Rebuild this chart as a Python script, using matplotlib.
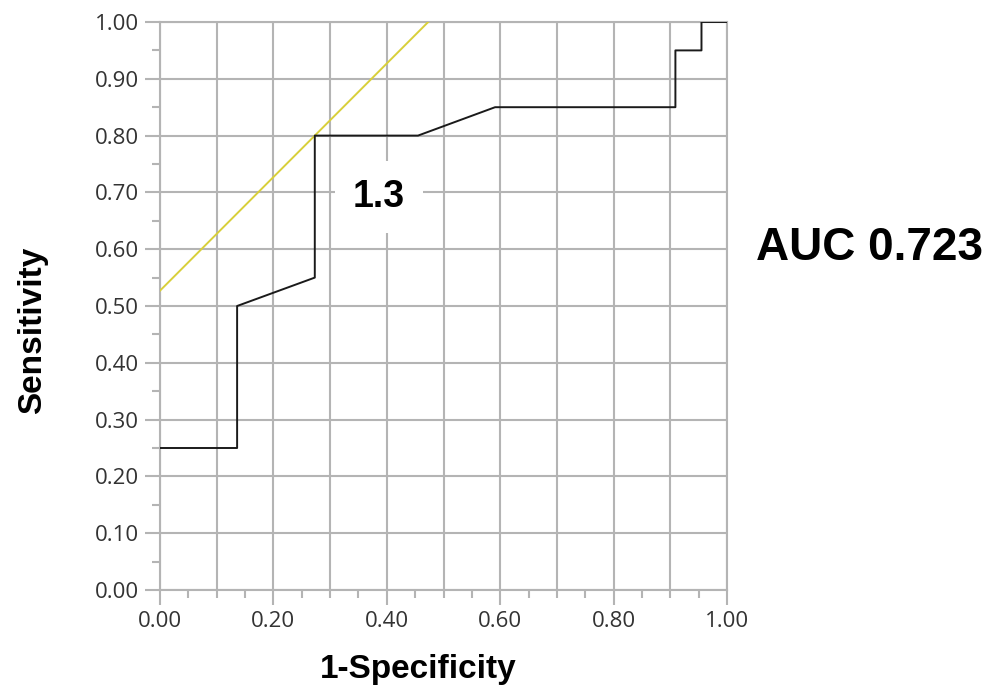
import matplotlib
matplotlib.use("Agg")
import matplotlib.pyplot as plt
from matplotlib.ticker import MultipleLocator

# ROC curve points (1-Specificity, Sensitivity)
fpr = [0.0, 0.136, 0.136, 0.273, 0.273, 0.455, 0.591, 0.909, 0.909, 0.955, 0.955, 1.0]
tpr = [0.25, 0.25, 0.50, 0.55, 0.80, 0.80, 0.85, 0.85, 0.95, 0.95, 1.00, 1.00]

# tangent line through the cutoff point
cut_x = 0.273
cut_y = 0.80
line_x = [0.0, 1.0]
line_y = [cut_y - cut_x, 1.0 + cut_y - cut_x]

cut_label = "1.3"
auc_text = "AUC 0.723"

fig = plt.figure(figsize=(9.94, 6.86), dpi=100)
ax = fig.add_axes([160 / 994, 1 - 590 / 686, 567 / 994, 568 / 686])

ax.plot(line_x, line_y, color="#d8cf3a", lw=1.4, zorder=3)
ax.plot(fpr, tpr, color="#1a1a1a", lw=1.4, zorder=4)

ax.set_xlim(0, 1)
ax.set_ylim(0, 1)

ax.xaxis.set_major_locator(MultipleLocator(0.2))
ax.xaxis.set_minor_locator(MultipleLocator(0.05))
ax.yaxis.set_major_locator(MultipleLocator(0.1))
ax.yaxis.set_minor_locator(MultipleLocator(0.05))
ax.xaxis.set_major_formatter(lambda v, p: f"{v:.2f}")
ax.yaxis.set_major_formatter(lambda v, p: f"{v:.2f}")

# grid every 0.1 on both axes
for v in [i / 10 for i in range(11)]:
    ax.axvline(v, color="#b4b4b4", lw=1.5, zorder=1)
    ax.axhline(v, color="#b4b4b4", lw=1.5, zorder=1)

for s in ax.spines.values():
    s.set_color("#b4b4b4")
    s.set_linewidth(1.5)

ax.tick_params(which="major", length=11, width=1.5, color="#b4b4b4",
               labelsize=16, labelcolor="#333333", pad=4)
ax.tick_params(which="minor", length=6, width=1.5, color="#b4b4b4")
for lab in ax.get_xticklabels() + ax.get_yticklabels():
    lab.set_family("Open Sans")

ax.text(0.386, 0.692, cut_label, fontsize=27, fontweight="bold",
        family="Liberation Sans", ha="center", va="center", zorder=5,
        bbox=dict(facecolor="white", edgecolor="none", pad=13))

# axis titles placed where the reference has them
fig.text(418 / 994, 1 - 678 / 686, "1-Specificity", fontsize=24, fontweight="bold",
         family="Liberation Sans", ha="center", va="baseline")
fig.text(33 / 994, 1 - 330 / 686, "Sensitivity", fontsize=24, fontweight="bold",
         family="Liberation Sans", ha="center", va="center", rotation=90)

fig.text(870 / 994, 1 - 248 / 686, auc_text, fontsize=33, fontweight="bold",
         family="Liberation Sans", ha="center", va="center")

fig.savefig("out.png", dpi=100, facecolor="white")
